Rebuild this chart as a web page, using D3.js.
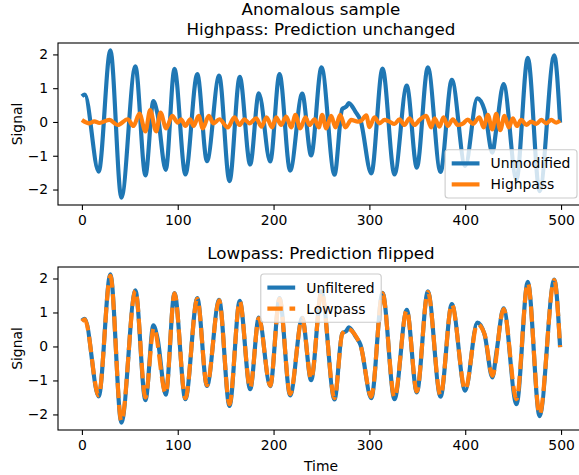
<!DOCTYPE html>
<html>
<head>
<meta charset="utf-8">
<script src="https://cdn.jsdelivr.net/npm/d3@7"></script>
<style>
body { margin: 0; background: #fff; }
text { font-family: "DejaVu Sans", sans-serif; fill: #000; }
</style>
</head>
<body>
<div id="chart"></div>
<script>
// values, [time, signal]
var unmodified = [[0,0.76],[3,0.81],[17.5,-1.47],[29.7,2.12],[41.2,-2.24],[55.8,1.65],[66.3,-1.58],
  [74.6,0.62],[78.8,0.25],[87.5,-1.42],[96.6,1.57],[108,-1.55],[120.4,1.42],[130.5,-1.16],[143.2,1.37],
  [154,-1.75],[164.7,1.34],[175.6,-1.26],[184.6,0.85],[196.5,-1.17],[206.2,1.42],[217.3,-1.44],
  [229.9,0.84],[239.2,-0.99],[250,1.62],[263.6,-1.56],[271.6,0.38],[276.1,0.46],[278.5,0.56],
  [285.5,0.3],[290.7,0.05],[302,-1.52],[313.7,1.58],[326.2,-1.55],[339,1.08],[349.5,-1.35],[361,1.62],
  [374.2,-1.48],[386,1.25],[400,-1.3],[412.6,0.7],[420.2,0.35],[428.3,-0.91],[432.7,-0.15],[440,1.12],
  [453.5,-1.7],[465.3,1.9],[477.6,-2.05],[492.9,1.97],[499,-0.02]];

var highpass = [[0,0.06],[7.8,-0.04],[13,0.02],[18.3,-0.03],[28.7,0.06],[37.4,-0.09],[47.8,0.08],
  [53.8,-0.12],[60,0.25],[66.3,-0.28],[71.2,0.35],[77.5,-0.28],[82,0.28],[87.9,-0.19],[94.2,0.18],
  [100,-0.02],[103.5,0.08],[108,-0.12],[113,0.08],[116.4,-0.12],[121.9,0.18],[126.1,-0.19],[132.4,0.18],
  [137.3,-0.04],[143.5,0.08],[152.2,-0.16],[159.2,0.14],[164.4,-0.09],[169.6,0.08],[174.8,-0.04],
  [181.8,0.11],[187.4,-0.14],[192.6,0.14],[198.5,-0.16],[202.7,0.14],[207.9,-0.09],[213.2,0.16],
  [218.4,-0.16],[222.9,0.21],[227.8,-0.19],[233.3,0.14],[237.5,-0.09],[242.7,0.08],[247.2,-0.16],
  [250.7,0.21],[254.9,-0.19],[260.1,0.18],[264.6,-0.16],[269.5,0.21],[275,-0.16],[281,0.06],[287.9,0.01],
  [291.7,0.04],[296.7,0.2],[300.1,-0.15],[305.3,0.14],[310.5,-0.04],[315.8,0.06],[321,0.01],[326.2,-0.06],
  [331.4,0.08],[336.6,-0.09],[341.8,0.11],[347.1,-0.09],[352.3,0.06],[359.3,0.18],[364.5,-0.16],[368,0.11],
  [373.2,-0.14],[377.3,0.14],[381.8,-0.12],[387.1,0.08],[392.3,-0.09],[397.5,-0.05],[402.7,0.07],
  [407.9,-0.06],[414.9,0.14],[419.1,-0.16],[423.6,0.21],[428.2,-0.22],[432.4,0.24],[436.5,-0.24],[441,0.18],
  [445.5,-0.16],[449.7,0.11],[453.9,-0.12],[458.5,0.06],[463.7,-0.09],[468.9,0.01],[474.1,-0.06],
  [479.3,0.06],[484.6,-0.04],[489.8,0.06],[495,-0.02],[499,0.04]];

var lowpass = [[0,0.74],[3,0.8],[17.5,-1.44],[29.7,2.08],[41.2,-2.2],[55.8,1.64],[66.3,-1.5],[75,0.55],
  [87.5,-1.38],[96.6,1.56],[108,-1.52],[120.4,1.4],[130.5,-1.14],[143.2,1.36],[154,-1.7],[164.7,1.33],
  [175.6,-1.22],[184.6,0.83],[196.5,-1.15],[206.2,1.4],[217.3,-1.4],[229.9,0.83],[239.2,-0.96],[250,1.6],
  [263.6,-1.52],[271.6,0.36],[277,0.52],[285.5,0.32],[291,0.0],[302,-1.48],[313.7,1.56],[326.2,-1.5],
  [339,1.07],[349.5,-1.32],[361,1.6],[374.2,-1.44],[386,1.24],[400,-1.27],[412.6,0.66],[420.2,0.36],
  [428.3,-0.86],[440,1.1],[453.5,-1.55],[465.3,1.87],[477.6,-2.0],[492.9,1.95],[499,-0.02]];

var xTicks = [0, 100, 200, 300, 400, 500];
var yTicks = [-2, -1, 0, 1, 2];

var blue = "#1f77b4", orange = "#ff7f0e";
var W = 579, H = 475;
var fs = 13.9, lw = 4.17;

var svg = d3.select("#chart").append("svg")
    .attr("width", W)
    .attr("height", H);

var tExt = d3.extent(unmodified, function(d){ return d[0]; });
var tPad = (tExt[1] - tExt[0]) * 0.05;
var x = d3.scaleLinear().domain([tExt[0] - tPad, tExt[1] + tPad]).range([58, 584]);

function panel(id, top, bottom, series, titles, legendItems, legendPos) {
  var all = [];
  series.forEach(function(s){ all = all.concat(s.data); });
  var ext = d3.extent(all, function(d){ return d[1]; });
  var pad = (ext[1] - ext[0]) * 0.05;
  var y = d3.scaleLinear().domain([ext[0] - pad, ext[1] + pad]).range([bottom, top]);

  var g = svg.append("g");
  g.append("clipPath").attr("id", "clip" + id)
    .append("rect").attr("x", x.range()[0]).attr("y", top)
    .attr("width", x.range()[1] - x.range()[0]).attr("height", bottom - top);

  var line = d3.line()
      .x(function(d){ return x(d[0]); })
      .y(function(d){ return y(d[1]); })
      .curve(d3.curveMonotoneX);

  series.forEach(function(s){
    g.append("path")
      .attr("clip-path", "url(#clip" + id + ")")
      .attr("d", line(s.data))
      .attr("fill", "none")
      .attr("stroke", s.color)
      .attr("stroke-width", lw)
      .attr("stroke-linejoin", "round")
      .attr("stroke-dasharray", s.dash ? "15.4,6.7" : null);
  });

  var xa = g.append("g").attr("transform", "translate(0," + bottom + ")")
      .call(d3.axisBottom(x).tickValues(xTicks).tickFormat(d3.format("d")).tickSize(4.9).tickPadding(4.9));
  var ya = g.append("g").attr("transform", "translate(" + x.range()[0] + ",0)")
      .call(d3.axisLeft(y).tickValues(yTicks).tickFormat(d3.format("d")).tickSize(4.9).tickPadding(4.9));
  [xa, ya].forEach(function(a){
    a.select(".domain").remove();
    a.selectAll("line").attr("stroke", "#000").attr("stroke-width", 1.1);
    a.selectAll("text").attr("font-size", fs).attr("font-family", "DejaVu Sans").attr("fill", "#000");
  });

  g.append("rect")
    .attr("x", x.range()[0]).attr("y", top)
    .attr("width", x.range()[1] - x.range()[0]).attr("height", bottom - top)
    .attr("fill", "none").attr("stroke", "#000").attr("stroke-width", 1.1);

  g.append("text")
    .attr("transform", "translate(22," + ((top + bottom) / 2) + ") rotate(-90)")
    .attr("text-anchor", "middle")
    .attr("font-size", fs)
    .text("Signal");

  var cx = (x.range()[0] + x.range()[1]) / 2;
  titles.forEach(function(t, i){
    g.append("text")
      .attr("x", cx)
      .attr("y", top - 8.3 - (titles.length - 1 - i) * 20)
      .attr("text-anchor", "middle")
      .attr("font-size", 16.7)
      .text(t);
  });

  // legend
  var lg = g.append("g");
  var texts = legendItems.map(function(it){
    return lg.append("text").attr("font-size", fs).text(it.label);
  });
  var tw = d3.max(texts, function(t){ return t.node().getComputedTextLength(); });
  var bp = 5.6, hl = 27.8, hp = 11.1, rowH = 16, sp = 5;
  var bw = bp * 2 + hl + hp + tw + 2;
  var bh = bp * 2 + legendItems.length * rowH + (legendItems.length - 1) * sp;
  var lx, ly;
  if (legendPos === "lower right") {
    lx = x.range()[1] - 7 - bw; ly = bottom - 7 - bh;
  } else {
    lx = cx - bw / 2; ly = top + 7;
  }
  lg.insert("rect", "text")
    .attr("x", lx).attr("y", ly).attr("width", bw).attr("height", bh)
    .attr("rx", 3).attr("fill", "#fff").attr("fill-opacity", 0.8)
    .attr("stroke", "#cccccc").attr("stroke-width", 1.1);
  legendItems.forEach(function(it, i){
    var ry = ly + bp + rowH / 2 + i * (rowH + sp);
    lg.insert("line", "text")
      .attr("x1", lx + bp + 1).attr("x2", lx + bp + 1 + hl)
      .attr("y1", ry).attr("y2", ry)
      .attr("stroke", it.color).attr("stroke-width", lw)
      .attr("stroke-dasharray", it.dash ? "15.4,6.7" : null);
    texts[i].attr("x", lx + bp + 1 + hl + hp).attr("y", ry + 5);
  });
  return y;
}

panel("a", 43, 205,
  [{data: unmodified, color: blue}, {data: highpass, color: orange}],
  ["Anomalous sample", "Highpass: Prediction unchanged"],
  [{label: "Unmodified", color: blue}, {label: "Highpass", color: orange}],
  "lower right");

panel("b", 267, 430,
  [{data: unmodified, color: blue}, {data: lowpass, color: orange, dash: true}],
  ["Lowpass: Prediction flipped"],
  [{label: "Unfiltered", color: blue}, {label: "Lowpass", color: orange, dash: true}],
  "upper center");

svg.append("text")
  .attr("x", (x.range()[0] + x.range()[1]) / 2)
  .attr("y", 471)
  .attr("text-anchor", "middle")
  .attr("font-size", fs)
  .text("Time");
</script>
</body>
</html>
